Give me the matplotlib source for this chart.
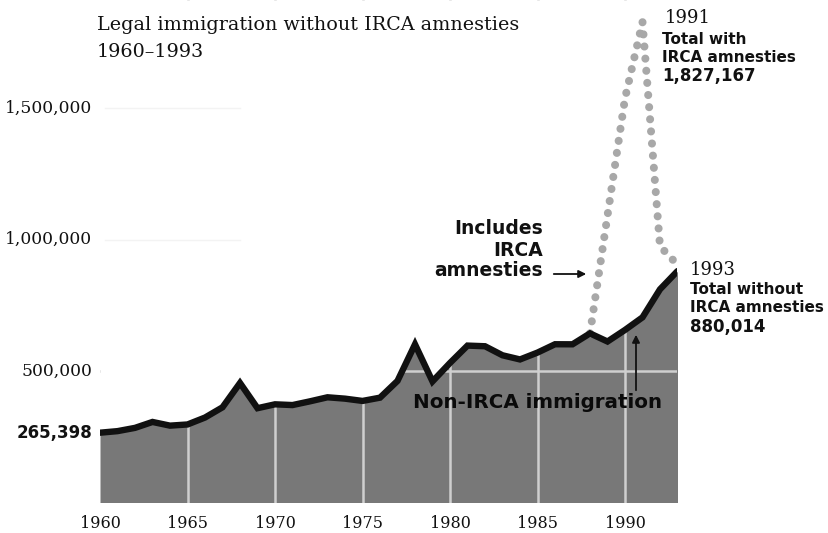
import matplotlib
matplotlib.use("Agg")
import matplotlib.pyplot as plt
import numpy as np

years = list(range(1960, 1994))
non_irca = [265398, 271344, 283763, 306260, 292248, 296697, 323040, 361972,
            454448, 358579, 373326, 370478, 384685, 400063, 394861, 386194,
            398613, 462315, 601442, 460348, 530639, 596600, 594131, 559763,
            543903, 570009, 601708, 601516, 643025, 612110, 656111, 704005,
            810635, 880014]
irca_years = [1988, 1989, 1990, 1991, 1992, 1993]
total_with_irca = [643025, 1090924, 1536483, 1827167, 973977, 904292]

xticks = [1960, 1965, 1970, 1975, 1980, 1985, 1990]
yticks = [500000, 1000000, 1500000]
ytick_labels = ["500,000", "1,000,000", "1,500,000"]

W, H = 829, 533
fig = plt.figure(figsize=(W / 100, H / 100), dpi=100)
fig.patch.set_facecolor("white")

# axes placement (pixels): 1960 at x=100, 1993 at x=677.5; y=0 at 502.5, 500k per 131.5px
x0, x1 = 100, 677.5
y0 = 502.5
per = 131.5 / 500000
ymax = y0 / per
ax = fig.add_axes([x0 / W, (H - y0) / H, (x1 - x0) / W, y0 / H])
ax.set_xlim(1960, 1993)
ax.set_ylim(0, ymax)
ax.axis("off")


def py(ypx):
    """pixel row -> data value"""
    return (y0 - ypx) / per


def px(xpx):
    return 1960 + (xpx - x0) / 17.5


serif = "DejaVu Serif"
sans = "DejaVu Sans"

ax.fill_between(years, 0, non_irca, color="#787878", lw=0, zorder=1)
for xv in xticks[1:]:
    ax.axvline(xv, color="#cfcfcf", lw=1.8, zorder=2)
ax.axhline(500000, color="#cfcfcf", lw=1.8, zorder=2)
# mask grid above the fill
ax.fill_between(years, non_irca, ymax, color="white", lw=0, zorder=3)
for yv in [1000000, 1500000]:
    ax.plot([1960.3, 1968], [yv, yv], color="#f3f3f3", lw=1, zorder=3.5)

ax.plot(irca_years, total_with_irca, color="#a8a8a8", lw=5.8,
        linestyle=(0, (0.01, 1.5)), dash_capstyle="round", zorder=4)
ax.plot(years, non_irca, color="#111111", lw=4.6, solid_joinstyle="miter",
        solid_capstyle="round", zorder=5)

# tick labels
for xv in xticks:
    ax.text(xv, py(523), str(xv), ha="center", va="center", fontsize=11.5,
            family=serif, color="#111111", clip_on=False)
for yv, lab in zip(yticks, ytick_labels):
    ax.text(px(92), yv, lab, ha="right", va="center", fontsize=12.3,
            family=serif, color="#111111", clip_on=False)
ax.text(px(92), non_irca[0], "265,398", ha="right", va="center", fontsize=12,
        family=sans, fontweight="bold", color="#111111", clip_on=False)

# title
fig.text(97 / W, 1 - 25 / H, "Legal immigration without IRCA amnesties",
         ha="left", va="center", fontsize=13.8, family=serif, color="#111111")
fig.text(97 / W, 1 - 52 / H, "1960\u20131993",
         ha="left", va="center", fontsize=13.8, family=serif, color="#111111")

# 1991 annotation
ax.text(px(665), py(18), "1991", ha="left", va="center", fontsize=13,
        family=serif, color="#111111")
ax.text(px(662), py(40), "Total with", ha="left", va="center", fontsize=11,
        family=sans, fontweight="bold", color="#111111")
ax.text(px(662), py(58), "IRCA amnesties", ha="left", va="center", fontsize=11,
        family=sans, fontweight="bold", color="#111111")
ax.text(px(662), py(76), "1,827,167", ha="left", va="center",
        fontsize=12, family=sans, fontweight="bold", color="#111111")

# 1993 annotation
ax.text(px(690), py(270), "1993", ha="left", va="center", fontsize=13,
        family=serif, color="#111111")
ax.text(px(690), py(290), "Total without", ha="left", va="center",
        fontsize=11, family=sans, fontweight="bold", color="#111111")
ax.text(px(690), py(307), "IRCA amnesties", ha="left", va="center",
        fontsize=11, family=sans, fontweight="bold", color="#111111")
ax.text(px(690), py(327), "880,014", ha="left", va="center",
        fontsize=12, family=sans, fontweight="bold", color="#111111")

# Includes IRCA amnesties
for txt, yy in [("Includes", 228), ("IRCA", 250), ("amnesties", 271)]:
    ax.text(px(543), py(yy), txt, ha="right", va="center", fontsize=13.5,
            family=sans, fontweight="bold", color="#111111")
ax.annotate("", xy=(px(589), py(274)), xytext=(px(551), py(274)),
            arrowprops=dict(arrowstyle="-|>", color="#111111", lw=1.3,
                            mutation_scale=11))

# Non-IRCA immigration
ax.text(px(413), py(403), "Non-IRCA immigration", ha="left", va="center",
        fontsize=14.3, family=sans, fontweight="bold", color="#0a0a0a",
        zorder=6)
ax.annotate("", xy=(px(636), py(332)), xytext=(px(636), py(393)),
            arrowprops=dict(arrowstyle="-|>", color="#111111", lw=1.3,
                            mutation_scale=11), zorder=6)

fig.savefig("out.png", dpi=100, facecolor="white")
